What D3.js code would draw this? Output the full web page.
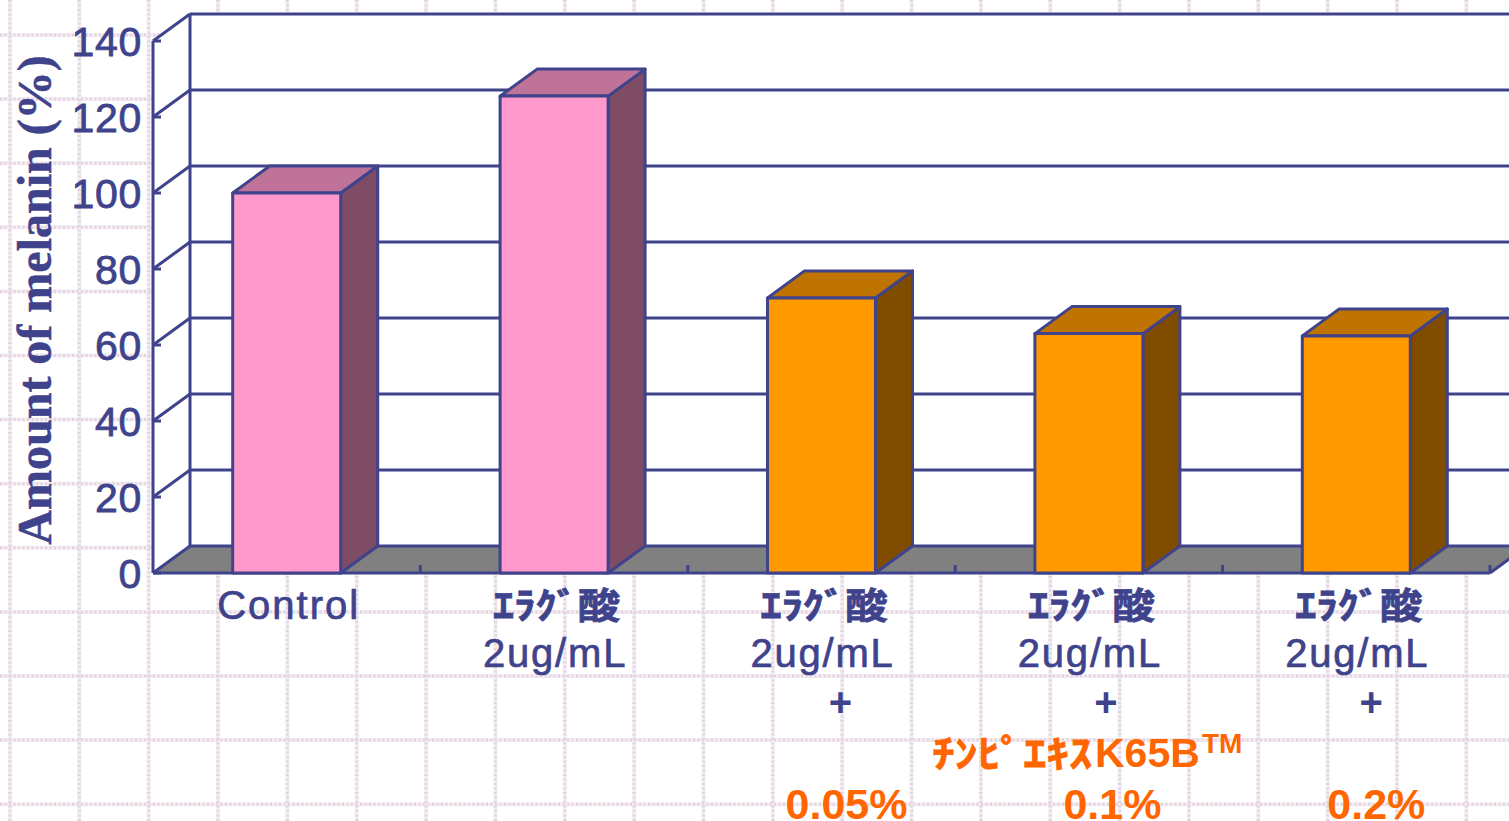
<!DOCTYPE html>
<html><head><meta charset="utf-8">
<script src="https://cdn.jsdelivr.net/npm/d3@7"></script>
<style>html,body{margin:0;padding:0;background:#fff;overflow:hidden}svg{display:block}
text{font-family:"Liberation Sans","Noto Sans CJK JP",sans-serif}</style></head>
<body><svg id="c" width="1509" height="821"></svg>
<script>
const categories = ["Control","a","b","c","d"];
const values = [100, 125.5, 72.4, 63, 62.4];
const barColors = ["#ff99cc","#ff99cc","#ff9900","#ff9900","#ff9900"];
const topColors = ["#bf7399","#bf7399","#bf7300","#bf7300","#bf7300"];
const sideColors = ["#7f4c66","#7f4c66","#7f4c00","#7f4c00","#7f4c00"];
const yTicks = [0,20,40,60,80,100,120,140];
const line1 = ["Control","ｴﾗｸﾞ酸","ｴﾗｸﾞ酸","ｴﾗｸﾞ酸","ｴﾗｸﾞ酸"];
const line2 = ["","2ug/mL","2ug/mL","2ug/mL","2ug/mL"];
const line3 = ["","","+","+","+"];
const line5 = ["","","0.05%","0.1%","0.2%"];
const productKana = "ﾁﾝﾋﾟｴｷｽ";
const productCode = "K65B";
const productMark = "TM";
const yTitle = "Amount of melanin (%)";

const ink="#3f438c", orange="#ff6600";
const svg=d3.select("#c");
const W=1509,H=821;
const dx=37,dy=-27;
const y=d3.scaleLinear().domain([0,140]).range([573,41]);
const x=d3.scaleBand().domain(categories).range([153,1490]);
const barW=108;

// paper grid
const gv=d3.range(0,22).map(i=>10+69.35*i), gh=d3.range(0,13).map(i=>35+64.1*i);
const grid=svg.append("g").attr("fill","none");
[["#f5ebf2",4,null],["#e3d5e0",3,"2 2.5"]].forEach(([c,w,dash])=>{
  grid.selectAll(null).data(gv).join("line").attr("x1",d=>d).attr("x2",d=>d).attr("y1",0).attr("y2",H).attr("stroke",c).attr("stroke-width",w).attr("stroke-dasharray",dash);
  grid.selectAll(null).data(gh).join("line").attr("y1",d=>d).attr("y2",d=>d).attr("x1",0).attr("x2",W).attr("stroke",c).attr("stroke-width",w).attr("stroke-dasharray",dash);
});

const pts=a=>a.map(p=>p.join(",")).join(" ");
const right=W+40;
// walls
svg.append("polygon").attr("points",pts([[153,y(0)],[153,y(140)],[153+dx,y(140)+dy],[153+dx,y(0)+dy]])).attr("fill","#fff");
svg.append("rect").attr("x",153+dx).attr("y",y(140)+dy).attr("width",right).attr("height",y(0)-y(140)).attr("fill","#fff");
// floor
svg.append("polygon").attr("points",pts([[153,y(0)],[1490,y(0)],[1490+dx,y(0)+dy],[153+dx,y(0)+dy]])).attr("fill","#808080");
const lw=3;
const g=svg.append("g").attr("stroke",ink).attr("stroke-width",lw).attr("fill","none").attr("stroke-linejoin","round");
// back wall gridlines and side diagonals
g.selectAll(".h").data(yTicks).join("line").attr("x1",153+dx).attr("x2",right).attr("y1",d=>y(d)+dy).attr("y2",d=>y(d)+dy);
g.selectAll(".d").data(yTicks).join("line").attr("x1",153).attr("x2",153+dx).attr("y1",d=>y(d)).attr("y2",d=>y(d)+dy);
g.append("line").attr("x1",153+dx).attr("x2",153+dx).attr("y1",y(140)+dy).attr("y2",y(0)+dy);
g.append("line").attr("x1",153).attr("x2",153).attr("y1",y(140)).attr("y2",y(0));
g.append("line").attr("x1",153).attr("x2",1490).attr("y1",y(0)).attr("y2",y(0));
g.append("line").attr("x1",1490).attr("x2",1490+dx).attr("y1",y(0)).attr("y2",y(0)+dy);
g.selectAll(".yt").data(yTicks).join("line").attr("x1",153).attr("x2",161).attr("y1",d=>y(d)).attr("y2",d=>y(d));
g.selectAll(".xt").data(d3.range(1,6)).join("line").attr("x1",i=>153+x.step()*i).attr("x2",i=>153+x.step()*i).attr("y1",y(0)).attr("y2",y(0)-8);
// bars
const bars=svg.append("g").attr("stroke",ink).attr("stroke-width",lw).attr("stroke-linejoin","round");
categories.forEach((c,i)=>{
  const l=x(c)+x.bandwidth()/2-barW/2, r=l+barW, t=y(values[i]), b=y(0);
  bars.append("polygon").attr("points",pts([[r,t],[r+dx,t+dy],[r+dx,b+dy],[r,b]])).attr("fill",sideColors[i]);
  bars.append("polygon").attr("points",pts([[l,t],[l+dx,t+dy],[r+dx,t+dy],[r,t]])).attr("fill",topColors[i]);
  bars.append("rect").attr("x",l).attr("y",t).attr("width",barW).attr("height",b-t).attr("fill",barColors[i]);
});
// y labels
svg.append("g").selectAll("text").data(yTicks).join("text").attr("x",142).attr("y",d=>y(d)+15).attr("text-anchor","end")
  .attr("font-size",41).attr("letter-spacing",0.7).attr("fill",ink).attr("stroke",ink).attr("stroke-width",0.8).text(d=>d);
svg.append("text").attr("transform","translate(51,300) rotate(-90)").attr("text-anchor","middle")
  .style("font-family",'"Liberation Serif"').attr("font-weight","bold").attr("font-size",48).attr("fill",ink).attr("stroke",ink).attr("stroke-width",0.5).text(yTitle);
// x labels
const lab=svg.append("g").attr("text-anchor","middle");
const cx=c=>x(c)+x.bandwidth()/2;
const plusShift=[0,0,19,17,15], pctShift=[0,0,25,23.5,20];
categories.forEach((c,i)=>{
  if(i===0){
    lab.append("text").attr("x",cx(c)+2).attr("y",619).attr("font-size",40).attr("letter-spacing",2).attr("fill",ink).attr("stroke",ink).attr("stroke-width",0.7).text(line1[i]);
  } else {
    lab.append("text").attr("x",cx(c)-61).attr("y",619).attr("text-anchor","start").attr("font-size",36).attr("font-weight","bold").attr("fill",ink).attr("stroke",ink).attr("stroke-width",0.8)
      .attr("textLength",127).attr("lengthAdjust","spacingAndGlyphs").text(line1[i]);
    lab.append("text").attr("x",cx(c)+1).attr("y",667).attr("font-size",40).attr("letter-spacing",1.8).attr("fill",ink).attr("stroke",ink).attr("stroke-width",0.7).text(line2[i]);
  }
  if(line3[i]) lab.append("text").attr("x",cx(c)+plusShift[i]).attr("y",716).attr("font-size",40).attr("font-weight","bold").attr("fill",ink).text(line3[i]);
  if(line5[i]) lab.append("text").attr("x",cx(c)+pctShift[i]).attr("y",819).attr("font-size",43).attr("font-weight","bold").attr("fill",orange).text(line5[i]);
});
const prod=svg.append("g").attr("font-weight","bold").attr("fill",orange);
prod.append("text").attr("x",932).attr("y",767).attr("font-size",38).attr("stroke",orange).attr("stroke-width",0.8).attr("textLength",160).attr("lengthAdjust","spacingAndGlyphs").text(productKana);
prod.append("text").attr("x",1095).attr("y",767).attr("font-size",41).text(productCode);
prod.append("text").attr("x",1202).attr("y",753).attr("font-size",28).text(productMark);
</script></body></html>
